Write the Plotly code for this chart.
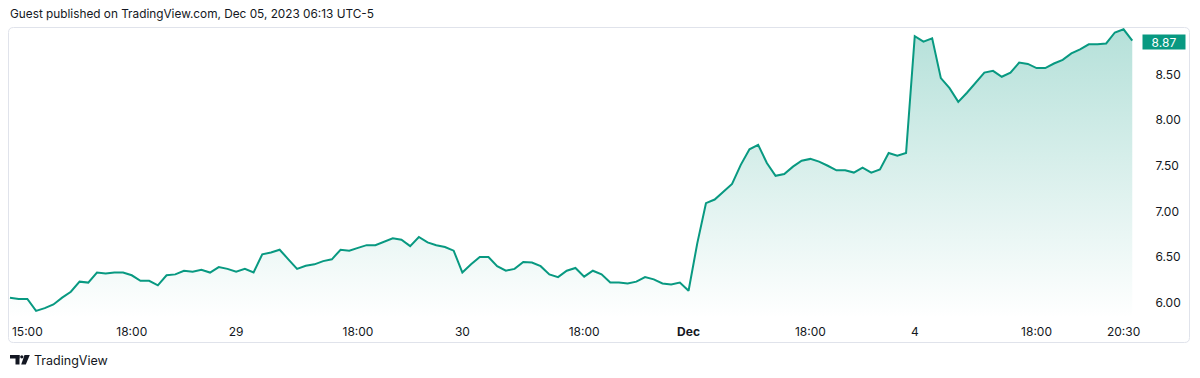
import plotly.graph_objects as go

# ---- data (15-minute bars, Nov 28 14:30 UTC -> Dec 4 20:45 UTC) ----
prices = [
    6.055, 6.04, 6.04, 5.91, 5.94, 5.98, 6.055, 6.12, 6.23, 6.22,
    6.33, 6.32, 6.33, 6.33, 6.30, 6.24, 6.24, 6.19, 6.30, 6.31,
    6.35, 6.34, 6.36, 6.33, 6.39, 6.37, 6.34, 6.37, 6.33, 6.53,
    6.55, 6.58, 6.475, 6.37, 6.405, 6.42, 6.455, 6.475, 6.58, 6.57,
    6.60, 6.63, 6.63, 6.67, 6.705, 6.69, 6.62, 6.72, 6.66, 6.63,
    6.61, 6.57, 6.33, 6.42, 6.50, 6.50, 6.40, 6.35, 6.37, 6.445,
    6.44, 6.40, 6.31, 6.28, 6.35, 6.38, 6.285, 6.35, 6.31, 6.22,
    6.22, 6.21, 6.23, 6.28, 6.255, 6.21, 6.20, 6.22, 6.13, 6.65,
    7.09, 7.13, 7.22, 7.30, 7.51, 7.68, 7.73, 7.53, 7.39, 7.41,
    7.49, 7.555, 7.575, 7.545, 7.50, 7.45, 7.45, 7.425, 7.48, 7.425,
    7.46, 7.64, 7.61, 7.64, 8.92, 8.86, 8.895, 8.46, 8.35, 8.20,
    8.30, 8.41, 8.52, 8.54, 8.475, 8.52, 8.63, 8.615, 8.57, 8.57,
    8.62, 8.66, 8.73, 8.775, 8.83, 8.83, 8.84, 8.96, 8.995, 8.87,
]
bar_index = list(range(len(prices)))

x_tick_positions = [2, 14, 26, 40, 52, 66, 78, 92, 104, 118, 128]
x_tick_labels = ["15:00", "18:00", "29", "18:00", "30", "18:00", "<b>Dec</b>",
                 "18:00", "4", "18:00", "20:30"]
y_tick_values = [6.0, 6.5, 7.0, 7.5, 8.0, 8.5]

title_text = "Guest published on TradingView.com, Dec 05, 2023 06:13 UTC-5"
brand_text = "TradingView"

# ---- layout geometry ----
W, H = 1200, 378
ML, MR, MT, MB = 9, 60, 27, 60
PW, PH = W - ML - MR, H - MT - MB
LINE = "#089981"
TXT = "#131722"
FONT = "Inter"


def px(xp):
    return (xp - ML) / PW


def py(yp):
    return (H - MB - yp) / PH


fig = go.Figure()
fig.add_trace(go.Scatter(
    x=bar_index, y=prices, mode="lines",
    line=dict(color=LINE, width=2),
    fill="tozeroy",
    fillgradient=dict(type="vertical", start=5.83, stop=9.0,
                      colorscale=[[0, "rgba(8,153,129,0)"],
                                  [1, "rgba(8,153,129,0.3)"]]),
    hoverinfo="skip", showlegend=False,
))

# rounded frame
r = 5
x0, x1, y0, y1 = 8.5, 1189.5, 27.5, 342.5
path = (f"M {px(x0 + r)},{py(y0)} L {px(x1 - r)},{py(y0)} "
        f"Q {px(x1)},{py(y0)} {px(x1)},{py(y0 + r)} "
        f"L {px(x1)},{py(y1 - r)} Q {px(x1)},{py(y1)} {px(x1 - r)},{py(y1)} "
        f"L {px(x0 + r)},{py(y1)} Q {px(x0)},{py(y1)} {px(x0)},{py(y1 - r)} "
        f"L {px(x0)},{py(y0 + r)} Q {px(x0)},{py(y0)} {px(x0 + r)},{py(y0)} Z")
shapes = [dict(type="path", xref="paper", yref="paper", path=path,
               line=dict(color="#e0e3eb", width=1), layer="above")]

# TradingView logo glyph
logo_col = TXT
shapes += [
    dict(type="rect", xref="paper", yref="paper", x0=px(10), x1=px(19.5),
         y0=py(358.5), y1=py(355), fillcolor=logo_col, line_width=0),
    dict(type="rect", xref="paper", yref="paper", x0=px(15.5), x1=px(19.5),
         y0=py(364.5), y1=py(355), fillcolor=logo_col, line_width=0),
    dict(type="circle", xref="paper", yref="paper", x0=px(20.2), x1=px(23.4),
         y0=py(358.4), y1=py(355.2), fillcolor=logo_col, line_width=0),
    dict(type="path", xref="paper", yref="paper",
         path=(f"M {px(24.5)},{py(355)} L {px(29.8)},{py(355)} "
               f"L {px(25.8)},{py(364.5)} L {px(21.2)},{py(364.5)} Z"),
         fillcolor=logo_col, line_width=0),
]

annotations = [
    dict(text=title_text, xref="paper", yref="paper", x=px(8), y=py(14),
         xanchor="left", yanchor="middle", showarrow=False,
         font=dict(family=FONT, size=11.8, color=TXT)),
    dict(text=brand_text, xref="paper", yref="paper", x=px(32), y=py(360.5),
         xanchor="left", yanchor="middle", showarrow=False,
         font=dict(family=FONT, size=12.5, color=TXT)),
    dict(text=f"{prices[-1]:.2f}", xref="paper", yref="y", x=1, y=prices[-1],
         xanchor="left", yanchor="middle", xshift=2, yshift=-1, showarrow=False,
         bgcolor=LINE, width=42, height=14, borderpad=0,
         font=dict(family=FONT, size=12, color="white")),
]

fig.update_layout(
    width=W, height=H,
    margin=dict(l=ML, r=MR, t=MT, b=MB, pad=0),
    paper_bgcolor="white", plot_bgcolor="white",
    font=dict(family=FONT, size=12, color=TXT),
    shapes=shapes, annotations=annotations,
    xaxis=dict(range=[-0.11, 129.89], tickmode="array",
               tickvals=x_tick_positions, ticktext=x_tick_labels,
               showgrid=False, zeroline=False, showline=False,
               ticks="outside", ticklen=3, tickcolor="rgba(0,0,0,0)",
               tickfont=dict(family=FONT, size=12, color=TXT), fixedrange=True),
    yaxis=dict(range=[5.832, 9.02], side="right", tickmode="array",
               tickvals=y_tick_values, tickformat=".2f",
               showgrid=False, zeroline=False, showline=False,
               ticks="outside", ticklen=12, tickcolor="rgba(0,0,0,0)",
               tickfont=dict(family=FONT, size=12, color=TXT), fixedrange=True),
    hovermode=False,
)

fig.write_html("out.html", config={"displayModeBar": False},
               post_script="document.body.style.margin='0';")
